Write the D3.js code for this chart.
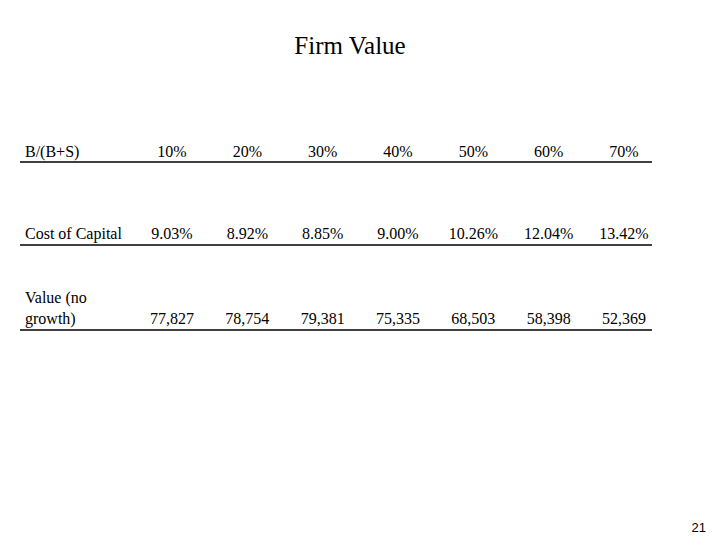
<!DOCTYPE html>
<html><head><meta charset="utf-8">
<script src="https://cdn.jsdelivr.net/npm/d3@7"></script>
<style>body{margin:0;background:#fff}</style></head>
<body><svg id="c" width="720" height="540"></svg>
<script>
const title = "Firm Value";
const columns = ["10%","20%","30%","40%","50%","60%","70%"];
const rowLabels = [["B/(B+S)"],["Cost of Capital"],["Value (no","growth)"]];
const costOfCapital = ["9.03%","8.92%","8.85%","9.00%","10.26%","12.04%","13.42%"];
const valueNoGrowth = ["77,827","78,754","79,381","75,335","68,503","58,398","52,369"];
const pageNumber = "21";

const svg = d3.select("#c");
const serif = "'Liberation Serif','Times New Roman',serif";
svg.append("text").attr("x",350).attr("y",54).attr("text-anchor","middle")
  .attr("font-family",serif).attr("font-size",25).text(title);

const x = d3.scalePoint().domain(columns).range([172,624]);
const rows = [columns, costOfCapital, valueNoGrowth];
const baselines = [157, 239, 324];
const lines = [162, 245, 330];

rows.forEach((vals,i)=>{
  const g = svg.append("g");
  g.selectAll("text.v").data(vals).join("text")
    .attr("x",(d,j)=>x(columns[j])).attr("y",baselines[i])
    .attr("text-anchor","middle").attr("font-family",serif).attr("font-size",16).text(d=>d);
  const lab = rowLabels[i];
  lab.forEach((t,k)=>{
    g.append("text").attr("x",25).attr("y",baselines[i]-(lab.length-1-k)*21)
      .attr("font-family",serif).attr("font-size",16).text(t);
  });
  g.append("line").attr("x1",20).attr("x2",652).attr("y1",lines[i]).attr("y2",lines[i])
    .attr("stroke","#000").attr("stroke-width",1.3);
});

svg.append("text").attr("x",706).attr("y",532).attr("text-anchor","end")
  .attr("font-family","'Liberation Sans',Arial,sans-serif").attr("font-size",13).text(pageNumber);
</script></body></html>
